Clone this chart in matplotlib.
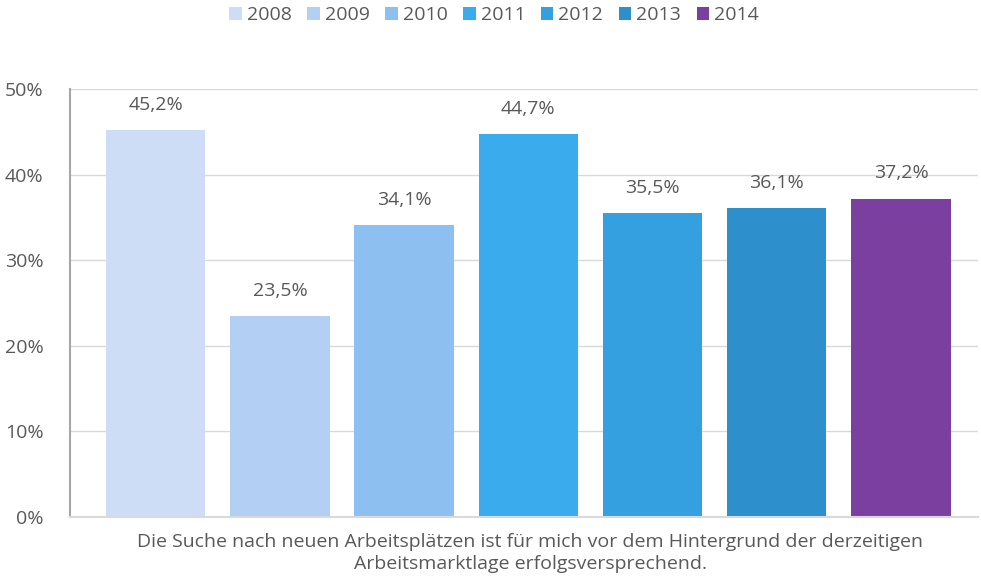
import matplotlib
matplotlib.use('Agg')
import matplotlib.pyplot as plt
from matplotlib.patches import Patch

plt.rcParams['font.family'] = ['Open Sans', 'DejaVu Sans']

years = ['2008', '2009', '2010', '2011', '2012', '2013', '2014']
values = [45.2, 23.5, 34.1, 44.7, 35.5, 36.1, 37.2]
colors = ['#CCDDF5', '#B3CFF3', '#8DC0F0', '#3AABEC', '#35A0E0', '#2D8FCB', '#7B3FA0']
category = 'Die Suche nach neuen Arbeitsplätzen ist für mich vor dem Hintergrund der derzeitigen\nArbeitsmarktlage erfolgsversprechend.'

text_color = '#595959'

fig = plt.figure(figsize=(9.81, 5.79), dpi=100)
ax = fig.add_axes([70 / 981, (579 - 517) / 579, 908 / 981, (517 - 89) / 579])

x = list(range(len(years)))
ax.bar(x, values, width=0.8, color=colors, zorder=2)

for xi, v in zip(x, values):
    ax.text(xi, v + 1.9, f'{v:.1f}%'.replace('.', ','), ha='center', va='bottom',
            fontsize=14, color=text_color)

ax.set_ylim(0, 50)
ax.set_xlim(-0.69, 6.62)
ax.set_yticks([0, 10, 20, 30, 40, 50])
ax.set_yticklabels([f'{t}%' for t in [0, 10, 20, 30, 40, 50]], fontsize=14, color=text_color)
ax.tick_params(axis='y', length=0, pad=19)
ax.set_xticks([])
ax.grid(axis='y', color='#D9D9D9', linewidth=1, zorder=0)
for s in ['top', 'right']:
    ax.spines[s].set_visible(False)
ax.spines['left'].set_color('#A6A6A6')
ax.spines['left'].set_linewidth(1.5)
ax.spines['bottom'].set_color('#D9D9D9')
ax.spines['bottom'].set_linewidth(1.5)

fig.text(530 / 981, 1 - 553 / 579, category, ha='center', va='center',
         fontsize=14, color=text_color, linespacing=1.3)

handles = [Patch(facecolor=c, edgecolor='none') for c in colors]
fig.legend(handles, years, loc='center', bbox_to_anchor=(494 / 981, 1 - 15 / 579),
           ncol=7, frameon=False, fontsize=14, labelcolor=text_color,
           handlelength=0.65, handleheight=0.65, handletextpad=0.25, columnspacing=0.8)

plt.savefig('out.png', dpi=100)
